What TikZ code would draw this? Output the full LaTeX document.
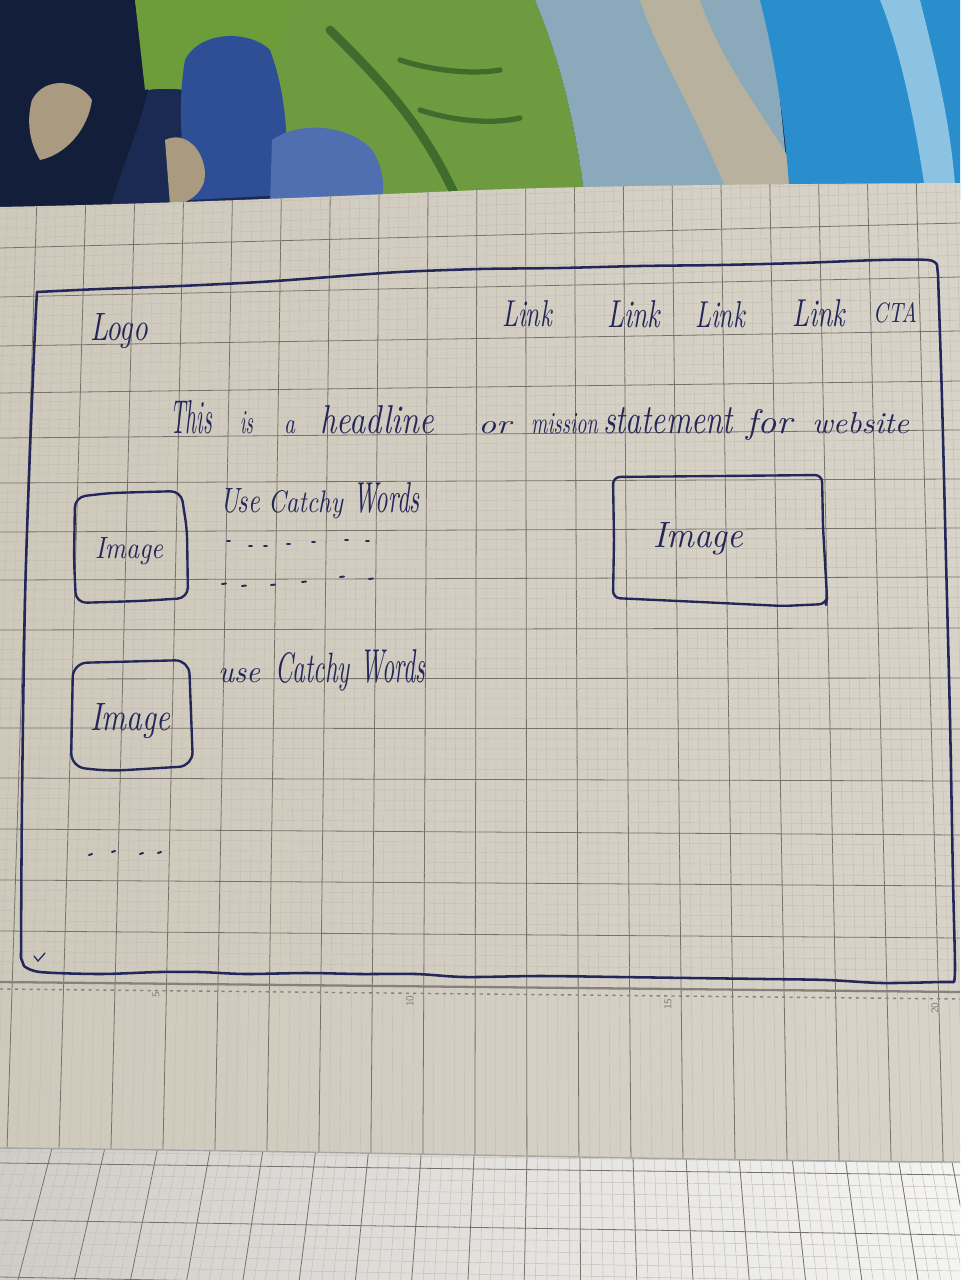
\documentclass[tikz,border=0pt]{standalone}
\usetikzlibrary{calc}
\newdimen\pxu \pxu=0.02cm\relax
% ink and paper colours
\definecolor{ink}{HTML}{23275A}
\definecolor{gridmaj}{HTML}{75726C}
\definecolor{gridmin}{HTML}{C3BDB2}
\definecolor{paperL}{HTML}{CFC9BC}
\definecolor{paperM}{HTML}{DFDBD2}
\definecolor{paperR}{HTML}{D8D3C8}
\definecolor{lowL}{HTML}{D0CDC8}
\definecolor{lowM}{HTML}{E2E0DD}
\definecolor{lowR}{HTML}{F4F4F3}
\definecolor{rulergray}{HTML}{85827C}
% cloth colours
\definecolor{fabNavy}{HTML}{1B2A52}
\definecolor{fabIndigo}{HTML}{131E3A}
\definecolor{fabGreenL}{HTML}{6D9D3A}
\definecolor{fabBlue}{HTML}{2E4F96}
\definecolor{fabGreen}{HTML}{6E9B40}
\definecolor{fabGreenD}{HTML}{3F6B2D}
\definecolor{fabBlueL}{HTML}{4F6FB1}
\definecolor{fabTeal}{HTML}{8AAABB}
\definecolor{fabTan}{HTML}{B7B19E}
\definecolor{fabCyan}{HTML}{2A8ECD}
\definecolor{fabCyanL}{HTML}{8CC2E2}
\definecolor{fabTanD}{HTML}{A99A80}

\begin{document}
\begin{tikzpicture}[x=0.02cm,y=-0.02cm,
  inkline/.style={draw=ink, line width=1.35pt, line cap=round, line join=round},
  frameline/.style={draw=ink, line width=1.45pt, line cap=round, line join=round},
  inkdot/.style={draw=ink, line width=1.1pt, line cap=round},
  handtext/.style={anchor=base west, inner sep=0pt, outer sep=0pt, text=ink},
  gridmajor/.style={draw=gridmaj, line width=0.45pt},
  gridminor/.style={draw=gridmin, line width=0.25pt},
  rulernum/.style={text=rulergray, inner sep=0pt, rotate=90, font=\fontsize{6}{7}\selectfont\sffamily}]
\useasboundingbox (0,0) rectangle (960,1280);
\clip (0,0) rectangle (960,1280);

% ---------- cloth behind the sheet ----------
\fill[fabNavy] (0,0) rectangle (960,240);
\fill[fabIndigo] (0,0) -- (140,0) -- (150,80) .. controls (140,130) and (120,170) .. (110,210) -- (0,210) -- cycle;
\fill[fabTanD] (32,100) .. controls (45,75) and (80,80) .. (92,100) .. controls (88,130) and (65,155) .. (40,160) .. controls (28,140) and (27,118) .. (32,100) -- cycle;
\fill[fabGreen] (135,0) -- (535,0) .. controls (560,60) and (575,120) .. (585,200) -- (290,200) -- (270,120) .. controls (230,95) and (180,85) .. (148,90) -- cycle;
\fill[fabGreenL] (135,0) -- (290,0) .. controls (285,40) and (270,80) .. (250,100) .. controls (210,90) and (170,80) .. (145,90) -- cycle;
\fill[fabBlue] (185,60) .. controls (200,30) and (250,30) .. (270,50) .. controls (285,90) and (290,140) .. (285,195) -- (190,200) .. controls (180,150) and (178,100) .. (185,60) -- cycle;
\fill[fabTanD] (165,140) .. controls (185,130) and (205,150) .. (205,175) .. controls (205,190) and (190,205) .. (170,205) -- cycle;
\draw[fabGreenD, line width=5pt, line cap=round] (330,30) .. controls (380,80) and (420,120) .. (455,195);
\draw[fabGreenD, line width=3pt, line cap=round] (400,60) .. controls (430,70) and (470,75) .. (500,70);
\draw[fabGreenD, line width=3pt, line cap=round] (420,110) .. controls (450,120) and (490,125) .. (520,118);
\fill[fabBlueL] (272,140) .. controls (300,120) and (350,125) .. (372,150) .. controls (385,170) and (385,190) .. (380,205) -- (270,205) -- cycle;
\fill[fabTeal] (535,0) -- (770,0) -- (790,200) -- (585,200) .. controls (575,120) and (560,60) .. (535,0) -- cycle;
\fill[fabTan] (640,0) -- (700,0) .. controls (720,60) and (760,110) .. (790,160) -- (790,200) -- (730,200) .. controls (700,120) and (660,60) .. (640,0) -- cycle;
\fill[fabCyan] (760,0) -- (960,0) -- (960,200) -- (790,200) .. controls (785,120) and (775,60) .. (760,0) -- cycle;
\fill[fabCyanL] (880,0) -- (920,0) .. controls (935,60) and (950,120) .. (955,185) -- (925,190) .. controls (915,120) and (900,50) .. (880,0) -- cycle;

% ---------- lower sheet below the fold ----------
\shade[left color=lowL, middle color=lowM, right color=lowR] (0,1130) rectangle (960,1280);
\begin{scope}
  \clip (0,1130) rectangle (960,1280);
  \foreach \i in {-5,...,95}{
    \pgfmathsetmacro\kk{\i/5}
    \pgfmathsetmacro\xt{49+53.1*\kk}
    \pgfmathsetmacro\xb{18+56.25*\kk}
    \pgfmathsetmacro\xa{\xt-(\xb-\xt)*30/120}
    \draw[gridminor] (\xa,1130) -- (\xb,1280);
  }
  \foreach \kk in {-1,...,19}{
    \pgfmathsetmacro\xt{49+53.1*\kk}
    \pgfmathsetmacro\xb{18+56.25*\kk}
    \pgfmathsetmacro\xa{\xt-(\xb-\xt)*30/120}
    \draw[gridmajor] (\xa,1130) -- (\xb,1280);
  }
  \foreach \la/\ra/\lb/\rb in {1106/1115/1163/1175, 1163/1175/1220/1235, 1220/1235/1277/1295}{
    \foreach \t in {0.2,0.4,0.6,0.8}{
      \draw[gridminor] (0,{\la+\t*(\lb-\la)}) -- (960,{\ra+\t*(\rb-\ra)});
    }
  }
  \foreach \la/\ra in {1163/1175, 1220/1235, 1277/1295}{
    \draw[gridmajor] (0,\la) -- (960,\ra);
  }
\end{scope}

% ---------- upper sheet with the drawing ----------
\shade[left color=paperL, middle color=paperM, right color=paperR]
  (0,207) .. controls (150,204) and (300,198) .. (480,190) .. controls (620,185) and (800,184) .. (960,183)
  -- (960,1162) .. controls (700,1161) and (400,1152) .. (0,1148) -- cycle;
\begin{scope}
  \clip (0,207) .. controls (150,204) and (300,198) .. (480,190) .. controls (620,185) and (800,184) .. (960,183)
    -- (960,1162) .. controls (700,1161) and (400,1152) .. (0,1148) -- cycle;
  % vertical rulings
  \foreach \i in {-5,...,100}{
    \pgfmathsetmacro\kk{\i/5}
    \pgfmathsetmacro\xa{36.7+48.9*\kk-0.0315*(-25+2.6*\kk)}
    \pgfmathsetmacro\xb{36.7+48.9*\kk+1.2075*(-25+2.6*\kk)}
    \draw[gridminor] (\xa,180) -- (\xb,1165);
  }
  \foreach \kk in {-1,...,20}{
    \pgfmathsetmacro\xa{36.7+48.9*\kk-0.0315*(-25+2.6*\kk)}
    \pgfmathsetmacro\xb{36.7+48.9*\kk+1.2075*(-25+2.6*\kk)}
    \draw[gridmajor] (\xa,180) -- (\xb,1165);
  }
  % horizontal rulings down to the printed edge
  \foreach \la/\ra/\lb/\rb in {199/171/248/223, 248/223/297/277, 297/277/346/331, 346/331/393/381,
      393/381/438/430, 438/430/483/479, 483/479/532/528, 532/528/580/577, 580/577/630/628,
      630/628/679/678, 679/678/728/729, 728/729/778/781, 778/781/829/835, 829/835/880/886,
      880/886/931/938, 931/938/982/992}{
    \foreach \t in {0.2,0.4,0.6,0.8}{
      \draw[gridminor] (0,{\la+\t*(\lb-\la)}) -- (960,{\ra+\t*(\rb-\ra)});
    }
  }
  \foreach \la/\ra in {248/223, 297/277, 346/331, 393/381, 438/430, 483/479, 532/528, 580/577,
      630/628, 679/678, 728/729, 778/781, 829/835, 880/886, 931/938}{
    \draw[gridmajor] (0,\la) -- (960,\ra);
  }
  % printed scale edge
  \draw[draw=rulergray, line width=1.3pt] (0,982) -- (960,992);
  \draw[draw=rulergray, line width=0.8pt, dash pattern=on 1.8pt off 2.4pt] (0,989) -- (960,999);
\end{scope}
\draw[draw=gray!70, line width=0.8pt] (0,1148) .. controls (400,1152) and (700,1161) .. (960,1162);

% scale numbers
\node[rulernum] (num5) at (156,995) {5};
\node[rulernum] (num10) at (410,1001) {10};
\node[rulernum] (num15) at (668,1004) {15};
\node[rulernum] (num20) at (935,1008) {20};

% ---------- page outline ----------
\draw[frameline]
  plot[smooth, tension=0.5] coordinates {(37,292) (100,289) (180,286) (260,282) (330,277) (400,272) (480,269) (560,268) (640,266) (720,265) (800,263) (880,260) (928,260) (937,265)}
  -- plot[smooth, tension=0.5] coordinates {(938,275) (942,400) (946,560) (950,720) (953,880) (955,965) (954,982)}
  -- plot[smooth, tension=0.5] coordinates {(940,982) (882,983) (827,980) (765,979) (690,978) (618,977) (540,976) (465,977) (416,974) (360,974) (306,973) (245,974) (200,972) (159,972) (100,974) (40,972) (24,966)}
  -- plot[smooth, tension=0.5] coordinates {(21,958) (22,800) (25,600) (30,450) (35,330) (37,292)};
\draw[inkdot, line width=0.7pt] (34,956) -- (38,961) -- (45,953);

% ---------- header ----------
\node[handtext] (logo) at (90,340) {\resizebox{58\pxu}{27\pxu}{\itshape Logo}};
\node[handtext] (link1) at (502,327) {\resizebox{50\pxu}{26\pxu}{\itshape Link}};
\node[handtext] (link2) at (607,327) {\resizebox{53\pxu}{27\pxu}{\itshape Link}};
\node[handtext] (link3) at (695,328) {\resizebox{50\pxu}{26\pxu}{\itshape Link}};
\node[handtext] (link4) at (792,326) {\resizebox{53\pxu}{27\pxu}{\itshape Link}};
\node[handtext] (cta) at (873,322) {\resizebox{44\pxu}{20\pxu}{\itshape CTA}};

% headline, word by word
\foreach \word/\xs/\ww/\hh [count=\n] in {This/170/42/33, is/240/13/22, a/284/11/13, headline/320/114/28,
    or/478/33/12, mission/531/67/20, statement/603/130/26, for/746/46/24, website/812/97/21}{
  \node[handtext] (head\n) at (\xs,433) {\resizebox{\ww\pxu}{\hh\pxu}{\itshape\word}};
}

% ---------- first feature row ----------
\draw[inkline, rounded corners=6] (75,497) -- (110,493) -- (181,491) -- (187,530) -- (188,598) -- (140,601) -- (76,603) -- (74,560) -- cycle;
\node[handtext] (img1) at (95,558) {\resizebox{68\pxu}{21\pxu}{\itshape Image}};
\node[handtext] (use1) at (220,512) {\resizebox{40\pxu}{24\pxu}{\itshape Use}};
\node[handtext] (catchy1) at (268,512) {\resizebox{75\pxu}{22\pxu}{\itshape Catchy}};
\node[handtext] (words1) at (353,512) {\resizebox{67\pxu}{30\pxu}{\itshape Words}};
\foreach \x/\y in {227/541, 249/546, 264/546, 287/544, 312/542, 345/540, 366/541}{
  \draw[inkdot] (\x,\y) -- ++(3,0);
}
\foreach \x/\y in {222/584, 242/586, 271/585, 302/582, 340/577, 369/579}{
  \draw[inkdot] (\x,\y) -- ++(4,-0.5);
}

% ---------- second feature row ----------
\draw[inkline, rounded corners=8] (73,663) -- (189,660) -- (193,766) -- (110,771) -- (71,767) -- cycle;
\node[handtext] (img2) at (90,730) {\resizebox{80\pxu}{27\pxu}{\itshape Image}};
\node[handtext] (use2) at (218,682) {\resizebox{42\pxu}{14\pxu}{\itshape use}};
\node[handtext] (catchy2) at (275,682) {\resizebox{75\pxu}{30\pxu}{\itshape Catchy}};
\node[handtext] (words2) at (360,682) {\resizebox{65\pxu}{33\pxu}{\itshape Words}};
\foreach \x/\y in {89/855, 112/852, 140/854, 158/853}{
  \draw[inkdot] (\x,\y) -- ++(3,-1);
}

% ---------- hero picture ----------
\draw[inkline, rounded corners=4] (613,477) -- (720,476) -- (822,475) -- (823,527) -- (827,598) -- (826,604) -- (783,606) -- (700,602) -- (613,598) -- (614,540) -- cycle;
\node[handtext] (img3) at (653,547) {\resizebox{90\pxu}{25\pxu}{\itshape Image}};
\end{tikzpicture}
\end{document}
